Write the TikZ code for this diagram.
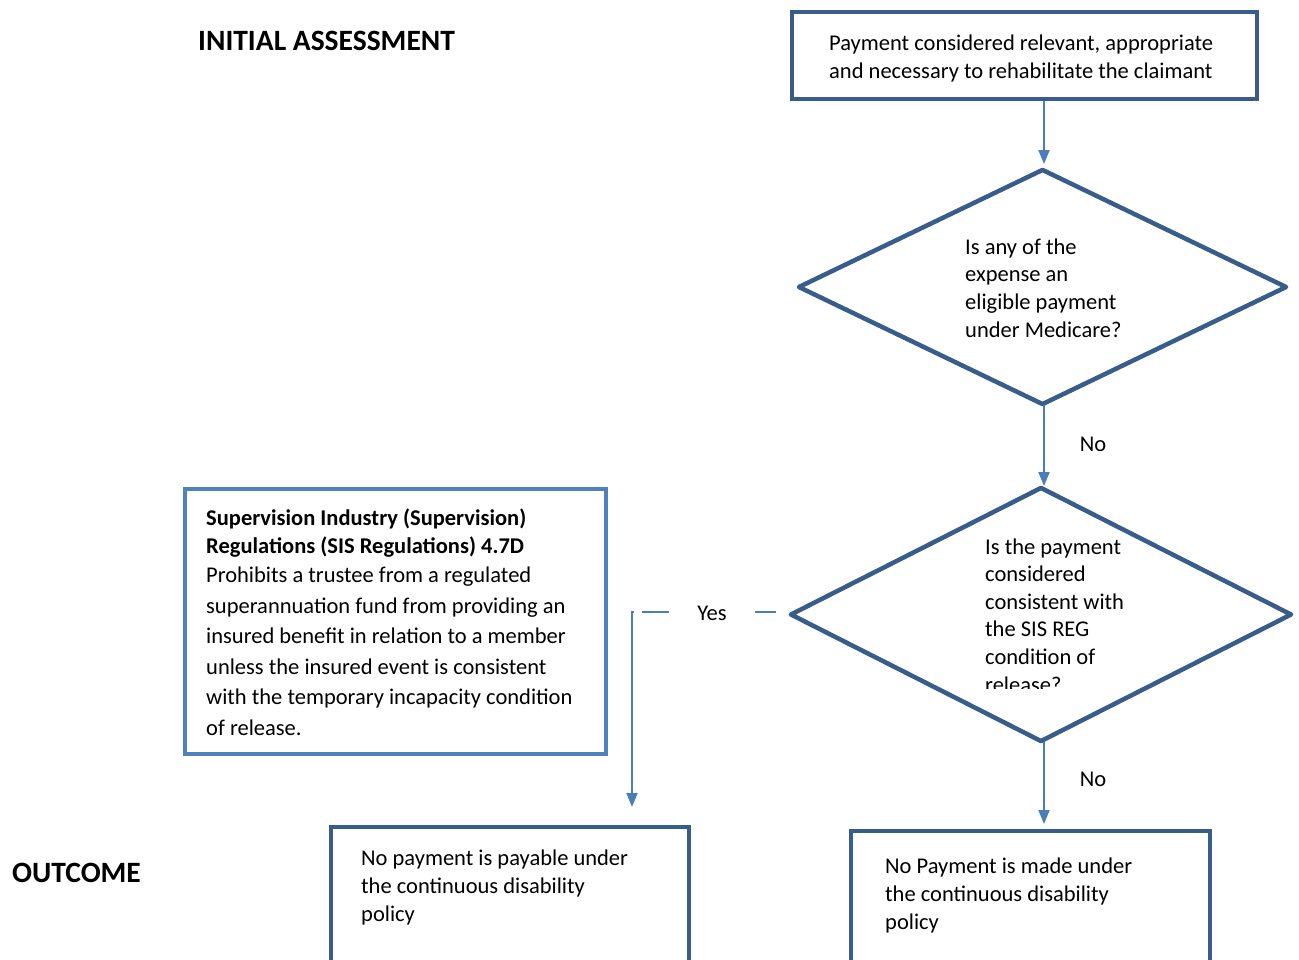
\documentclass[tikz,border=0pt]{standalone}
\usepackage{fontspec}
\setmainfont{Carlito}
\usetikzlibrary{shapes.geometric,arrows.meta}
\definecolor{boxblue}{RGB}{56,93,138}
\definecolor{linkblue}{RGB}{74,126,187}
\definecolor{lightblue}{RGB}{79,129,189}
\begin{document}
\begin{tikzpicture}[x=1pt,y=-1pt,
  box/.style={draw=boxblue,line width=4pt,rectangle,inner sep=0pt,fill=white},
  sisbox/.style={draw=lightblue,line width=4pt,rectangle,inner sep=0pt,fill=white},
  decision/.style={draw=boxblue,line width=4.5pt,diamond,inner sep=0pt,line join=round,fill=white},
  txt/.style={inner sep=0pt,anchor=base west,align=left,font=\fontsize{22.5}{27.6}\selectfont},
  head/.style={inner sep=0pt,anchor=base west,font=\fontsize{29.5}{34}\selectfont\bfseries},
  arr/.style={draw=linkblue,line width=2pt,-{Triangle[length=14pt,width=11pt]}},
  lbl/.style={inner sep=0pt,font=\fontsize{22.5}{27.6}\selectfont}]
\useasboundingbox (0,0) rectangle (1299,959);
\fill[white] (0,0) rectangle (1299,959);

% headings
\node[head] (hinit) at (198,50) {INITIAL ASSESSMENT};
\node[head] (hout) at (12,882) {OUTCOME};

% boxes (text nodes are anchored at the baseline of their last line)
\node[box,minimum width=465pt,minimum height=87pt] (top) at (1024.5,55.5) {};
\node[txt] (toptxt) at (829,78) {Payment considered relevant, appropriate\\and necessary to rehabilitate the claimant};

\node[decision,minimum width=489pt,minimum height=236pt] (d1) at (1042.5,287) {};
\node[txt] (d1txt) at (965,337) {Is any of the\\expense an\\eligible payment\\under Medicare?};

\node[decision,minimum width=502pt,minimum height=255pt] (d2) at (1041,614.5) {};
\begin{scope}
  \clip (900,500) rectangle (1200,688);
  \node[txt] (d2txt) at (985,692) {Is the payment\\considered\\consistent with\\the SIS REG\\condition of\\release?};
\end{scope}

\node[sisbox,minimum width=421pt,minimum height=265pt] (sis) at (395,621) {};
\node[txt,font=\fontsize{22.5}{28}\selectfont\bfseries] (sistitle) at (206,553) {Supervision Industry (Supervision)\\Regulations (SIS Regulations) 4.7D};
\node[txt,font=\fontsize{22.5}{30.5}\selectfont] (sisbody) at (206,735) {Prohibits a trustee from a regulated\\superannuation fund from providing an\\insured benefit in relation to a member\\unless the insured event is consistent\\with the temporary incapacity condition\\of release.};

\node[box,minimum width=358pt,minimum height=138pt] (outl) at (510,896) {};
\node[txt] (outltxt) at (361,921) {No payment is payable under\\the continuous disability\\policy};

\node[box,minimum width=359pt,minimum height=134pt] (outr) at (1030.5,898) {};
\node[txt] (outrtxt) at (885,929) {No Payment is made under\\the continuous disability\\policy};

% connectors
\coordinate (c1s) at (1044,101);
\coordinate (c1e) at (1044,164);
\draw[arr] (c1s) -- (c1e);

\coordinate (c2s) at (1044,405);
\coordinate (c2e) at (1044,486);
\draw[arr] (c2s) -- (c2e);
\node[lbl] (no1) at (1093,444) {No};

\coordinate (c3s) at (1044,742);
\coordinate (c3e) at (1044,824);
\draw[arr] (c3s) -- (c3e);
\node[lbl] (no2) at (1093,779) {No};

\coordinate (ys) at (776,612);
\coordinate (ye) at (632,807);
\draw[arr] (ys) -| (ye);
\node[lbl,fill=white,inner xsep=28pt,inner ysep=4pt] (yes) at (712,613) {Yes};
\fill[white] (634,606) rectangle (642,618);
\end{tikzpicture}
\end{document}
